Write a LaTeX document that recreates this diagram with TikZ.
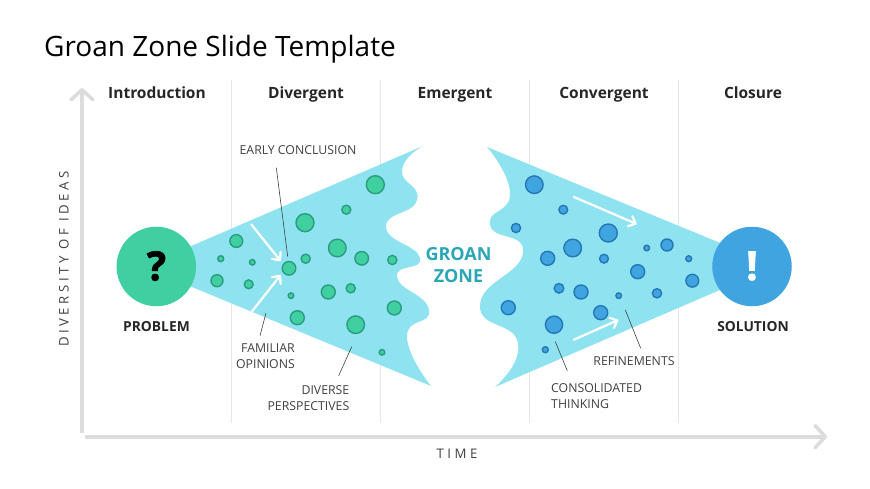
\documentclass[tikz,border=0pt]{standalone}
\usepackage{fontspec}
\setmainfont{Open Sans}
\newfontfamily\axisfont[LetterSpace=27]{Open Sans}
\newfontfamily\markfont[BoldFeatures={FakeBold=2}]{Open Sans}
\usetikzlibrary{arrows.meta}
\definecolor{blobcol}{HTML}{8FE3F0}
\definecolor{greenfill}{HTML}{3FCFA0}
\definecolor{greenline}{HTML}{2A9C80}
\definecolor{bluefill}{HTML}{3FA4E0}
\definecolor{blueline}{HTML}{2577B4}
\definecolor{axiscol}{HTML}{DCDCDC}
\definecolor{rulecol}{HTML}{E4E8E8}
\definecolor{labelcol}{HTML}{404040}
\definecolor{zonecol}{HTML}{2AA6B6}
\tikzset{
  heading/.style={font=\fontsize{15.5}{18}\selectfont\bfseries,text=black!85,anchor=base},
  endlabel/.style={font=\fontsize{13.8}{16}\selectfont\bfseries,text=black!85,anchor=base},
  note/.style={font=\fontsize{12.3}{15.5}\selectfont,text=labelcol,inner sep=0pt},
  zone/.style={font=\fontsize{18}{22}\selectfont\bfseries,text=zonecol,align=center},
  axistext/.style={font=\fontsize{13.2}{15}\axisfont,text=labelcol},
  axisline/.style={draw=axiscol,line width=3.6pt,-{Straight Barb[length=10pt,width=22pt,round]}},
  bigdot/.style={circle,minimum size=79.5pt,inner sep=0pt},
  greenbub/.style={circle,inner sep=0pt,fill=greenfill,draw=greenline,line width=1.4pt},
  bluebub/.style={circle,inner sep=0pt,fill=bluefill,draw=blueline,line width=1.4pt},
  leader/.style={draw=labelcol,line width=.6pt},
  flow/.style={draw=white,line width=2.2pt,-{Straight Barb[length=6pt,width=11pt,round]}}
}
\begin{document}
\begin{tikzpicture}
  [x=1pt,y=-1pt]
  \useasboundingbox (0,0) rectangle (870,489);

  % columns
  \foreach \x/\name in {231.5/r1, 380/r2, 529/r3, 678/r4} {
    \coordinate (\name a) at (\x,80);
    \coordinate (\name b) at (\x,423);
    \draw [rulecol,line width=.8pt] (\name a) -- (\name b);
  }

  % the two funnels
  \fill [blobcol] (175,253) -- (423,146)
    -- plot [smooth,tension=.95] coordinates {(423,146) (402,170) (417,200) (386,227) (420,258) (397,277) (429,310) (407,337) (431,386)}
    -- (175,280) -- cycle;
  \fill [blobcol] (735,283.5) -- (495,387)
    -- plot [smooth,tension=.95] coordinates {(495,387) (518,343) (480,305) (523,253) (490,225) (510,193) (487,147)}
    -- (735,249) -- cycle;

  \node [bigdot,fill=greenfill] (problem) at (156.3,266.5) {};
  \node [bigdot,fill=bluefill] (solution) at (752,266.5) {};
  \node [font=\fontsize{40}{40}\markfont\bfseries,text=black] (qmark) at (156.5,266) {?};
  \node [font=\fontsize{40}{40}\markfont\bfseries,text=white] (emark) at (752,266) {!};

  % bubbles
  \foreach \x/\y/\r [count=\i] in {375.3/184.7/9, 346.3/209.7/4.5, 305/222.7/9, 236.3/241/6.4,
    337.3/248/8.8, 361.7/258.3/6.8, 392.3/260/4.6, 220.7/258.7/3, 252.3/262.3/2.8,
    305.7/258.7/4.6, 289/268.3/6.8, 217/280.7/6, 248.7/284.3/4.4, 291/295.7/2.8,
    328.3/292/7, 350.7/288.3/4.6, 394.3/308/7, 297.3/317.7/7, 355.7/324.7/8.8, 382/352.3/2.8}
    \node [greenbub,minimum size=2*\r pt] (g\i) at (\x,\y) {};
  \foreach \x/\y/\r [count=\i] in {534.3/184.7/8.8, 563.3/209.7/4.4, 608.3/233/9, 516/228/4.6,
    572.7/248/8.8, 547.7/258.3/7, 604/258.7/4.4, 646.7/248/2.8, 667/245/6, 688.7/258.7/2.9,
    692.3/280.7/6.4, 637.7/271.7/7, 559/288.3/4.8, 581/292/7, 618.7/295.7/2.8, 657/293.3/4.6,
    508.3/307.7/7, 600.7/312.7/7, 554/324.7/8.6, 545.3/349.7/3}
    \node [bluebub,minimum size=2*\r pt] (b\i) at (\x,\y) {};

  % headings
  \node [font=\fontsize{28}{32}\selectfont,text=black,anchor=base west,inner sep=0pt] (title) at (44,57) {Groan Zone Slide Template};
  \node [heading] (intro) at (157,98.5) {Introduction};
  \node [heading] (diver) at (306,98.5) {Divergent};
  \node [heading] (emerg) at (455,98.5) {Emergent};
  \node [heading] (conve) at (604,98.5) {Convergent};
  \node [heading] (closu) at (753,98.5) {Closure};

  \node [endlabel] (problemtxt) at (156.5,331) {PROBLEM};
  \node [endlabel] (solutiontxt) at (753,331) {SOLUTION};
  \node [zone] (groan) at (458.5,265) {GROAN\\ZONE};

  \node [note] (early) at (298,150) {EARLY CONCLUSION};
  \node [note,align=right,anchor=east] (famil) at (295,356) {FAMILIAR\\OPINIONS};
  \node [note,align=right,anchor=east] (diverse) at (349.5,398) {DIVERSE\\PERSPECTIVES};
  \node [note] (refine) at (634,361.5) {REFINEMENTS};
  \node [note,align=left,anchor=west] (conso) at (551,396) {CONSOLIDATED\\THINKING};

  % leader lines
  \foreach \name/\ax/\ay/\bx/\by in {l1/276.3/167.7/287.7/256.7, l2/266/313/260/335.7,
    l3/351.7/346.7/338.7/375.7, l4/625.3/310/640.7/348.3, l5/555.3/341.7/567.3/370.7} {
    \coordinate (\name a) at (\ax,\ay);
    \coordinate (\name b) at (\bx,\by);
    \draw [leader] (\name a) -- (\name b);
  }

  % white arrows
  \foreach \name/\ax/\ay/\bx/\by in {f1/251/224/280.7/261, f2/251.7/311.7/280.7/275,
    f3/573.3/196.7/636.7/224, f4/573.3/340/618.3/320} {
    \coordinate (\name a) at (\ax,\ay);
    \coordinate (\name b) at (\bx,\by);
    \draw [flow] (\name a) -- (\name b);
  }

  % axes
  \coordinate (origin) at (82,433);
  \coordinate (ytop) at (82,88);
  \coordinate (xstart) at (85,436.7);
  \coordinate (xend) at (827,436.7);
  \draw [axisline] (origin) -- (ytop);
  \draw [axisline] (xstart) -- (xend);
  \node [axistext,rotate=90] (ylabel) at (64,259) {DIVERSITY OF IDEAS};
  \node [axistext] (xlabel) at (457,454) {TIME};
\end{tikzpicture}
\end{document}
